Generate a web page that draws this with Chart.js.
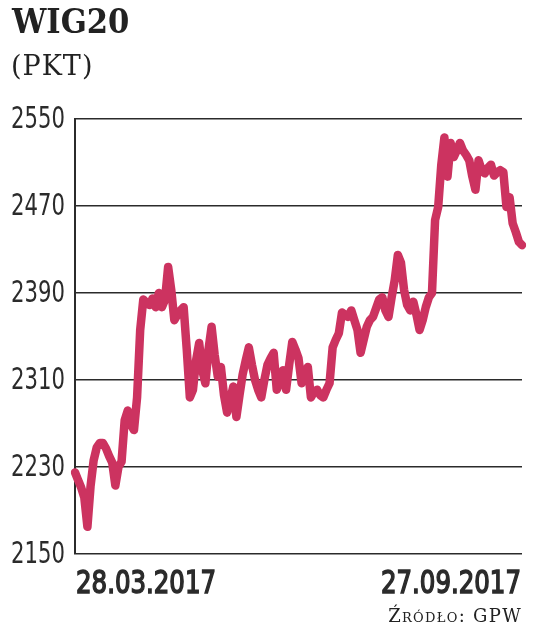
<!DOCTYPE html>
<html>
<head>
<meta charset="utf-8">
<script src="https://cdn.jsdelivr.net/npm/chart.js@4"></script>
<style>
  body { margin: 0; background: #fff; }
  #wrap { position: relative; width: 536px; height: 641px; overflow: hidden; }
  #chart { position: absolute; left: 0; top: 0; }
  .title { position: absolute; left: 12px; top: 4px; font: bold 34px/1 "DejaVu Serif Condensed", "DejaVu Serif", serif; color: #222; }
  .unit { position: absolute; left: 11px; top: 52px; font: 27px/1 "DejaVu Serif", serif; color: #222; letter-spacing: 1px; }
  .source { position: absolute; right: 14px; top: 607px; font: 18px/1 "DejaVu Serif", serif; font-variant: small-caps; color: #222; letter-spacing: 1.3px; }
</style>
</head>
<body>
<div id="wrap">
  <canvas id="chart" width="536" height="641"></canvas>
  <div class="title">WIG20</div>
  <div class="unit">(PKT)</div>
  <div class="source">Źródło: GPW</div>
</div>
<script>
// WIG20 closing values, 28.03.2017 - 27.09.2017
var values = [
  2225, 2218, 2211, 2202, 2175, 2212, 2236, 2248, 2252, 2252,
  2247, 2240, 2234, 2213, 2230, 2235, 2273, 2282, 2269, 2264,
  2294, 2356, 2384, 2381, 2379, 2385, 2377, 2390, 2377, 2384,
  2414, 2393, 2365, 2370, 2374, 2377, 2338, 2294, 2301, 2328,
  2344, 2319, 2307, 2338, 2359, 2333, 2313, 2322, 2296, 2280,
  2292, 2304, 2276, 2296, 2315, 2328, 2340, 2324, 2310, 2301,
  2294, 2310, 2324, 2330, 2335, 2301, 2310, 2319, 2301, 2324,
  2345, 2338, 2330, 2307, 2315, 2322, 2294, 2299, 2301, 2296,
  2294, 2301, 2307, 2340, 2347, 2353, 2372, 2370, 2368, 2374,
  2365, 2356, 2335, 2347, 2359, 2365, 2368, 2376, 2384, 2386,
  2374, 2368, 2386, 2402, 2425, 2418, 2393, 2379, 2374, 2382,
  2370, 2356, 2365, 2377, 2386, 2390, 2457, 2469, 2508, 2533,
  2497, 2528, 2515, 2521, 2528, 2521, 2517, 2512, 2497, 2485,
  2512, 2503, 2500, 2505, 2508, 2498, 2501, 2503, 2501, 2469,
  2478, 2454, 2446, 2437, 2434
];
var xTickLabels = ["28.03.2017", "27.09.2017"];
var yTicks = [2150, 2230, 2310, 2390, 2470, 2550];

var labels = values.map(function(v, i) { return i; });
var lineColor = "#cc3360";
var ink = "#2b2b2b";
var narrowY = 0.76; // squeeze DejaVu Sans Condensed to look like the paper's narrow face
var narrowX = 0.85;

// draws the tick labels horizontally squeezed
var narrowLabels = {
    id: "narrowLabels",
    afterDraw: function(chart) {
        var c = chart.ctx;
        var area = chart.chartArea;
        var ys = chart.scales.y;
        c.save();
        c.fillStyle = ink;
        c.strokeStyle = ink;
        c.font = "31px 'DejaVu Sans Condensed', 'DejaVu Sans', sans-serif";
        c.textAlign = "right";
        c.textBaseline = "middle";
        yTicks.forEach(function(v) {
            var py = ys.getPixelForValue(v);
            c.save();
            c.translate(area.left - 10, py + 1);
            c.scale(narrowY, 1);
            c.fillText(String(v), 0, 0);
            c.restore();
        });
        // semi-bold look: regular face with a thin outline
        c.font = "32px 'DejaVu Sans Condensed', 'DejaVu Sans', sans-serif";
        c.textBaseline = "alphabetic";
        c.lineWidth = 1.5;
        var xs = chart.scales.x;
        var spots = [
            { x: xs.getPixelForValue(0), align: "left", text: xTickLabels[0] },
            { x: xs.getPixelForValue(values.length - 1), align: "right", text: xTickLabels[1] }
        ];
        spots.forEach(function(s) {
            c.save();
            c.translate(s.x + (s.align === "left" ? 1 : -1), area.bottom + 39);
            c.scale(narrowX, 1);
            c.textAlign = s.align;
            c.fillText(s.text, 0, 0);
            c.strokeText(s.text, 0, 0);
            c.restore();
        });
        c.restore();
    }
};

var ctx = document.getElementById("chart");
var chart = new Chart(ctx, {
    type: "line",
    data: {
        labels: labels,
        datasets: [{
            data: values,
            borderColor: lineColor,
            borderWidth: 8.5,
            pointRadius: 0,
            tension: 0,
            borderJoinStyle: "round",
            borderCapStyle: "round",
            fill: false
        }]
    },
    plugins: [narrowLabels],
    options: {
        responsive: false,
        animation: false,
        devicePixelRatio: 1,
        layout: {
            padding: { top: 119, left: 75, right: 14, bottom: 87 }
        },
        plugins: {
            legend: { display: false },
            tooltip: { enabled: false }
        },
        scales: {
            x: {
                grid: { display: false, drawTicks: false },
                border: { display: false },
                ticks: { display: false }
            },
            y: {
                min: yTicks[0],
                max: yTicks[yTicks.length - 1],
                afterBuildTicks: function(scale) {
                    scale.ticks = yTicks.map(function(v) { return { value: v }; });
                },
                grid: { color: ink, lineWidth: 1.5, drawTicks: false },
                border: { display: true, color: ink, width: 2 },
                ticks: { display: false }
            }
        }
    }
});
</script>
</body>
</html>
